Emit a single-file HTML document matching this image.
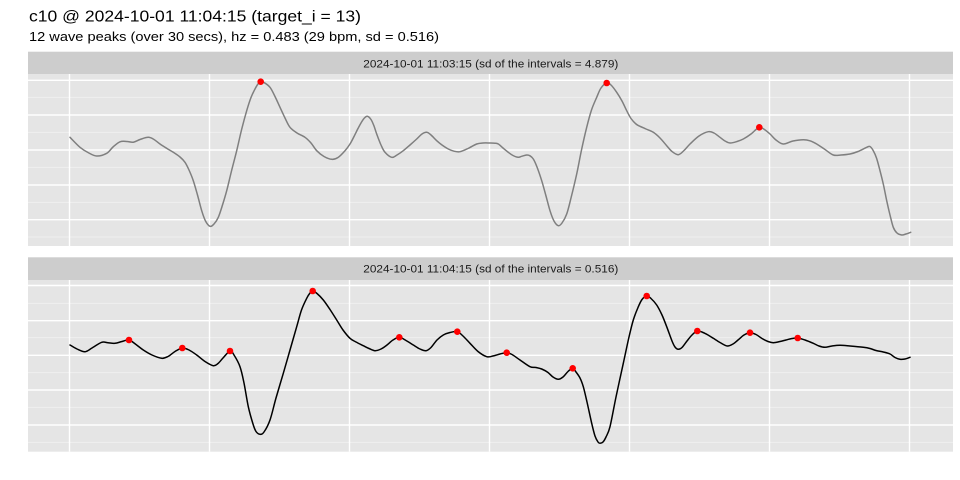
<!DOCTYPE html>
<html>
<head>
<meta charset="utf-8">
<style>
html,body{margin:0;padding:0;background:#ffffff;}
svg{display:block;}
text{font-family:"Liberation Sans",Arial,sans-serif;}
</style>
</head>
<body>
<svg id="chart" width="960" height="480" viewBox="0 0 960 480" xmlns="http://www.w3.org/2000/svg">
<rect x="0" y="0" width="960" height="480" fill="#ffffff"/>
<text x="29" y="21.5" font-size="16" fill="#000000" textLength="332" lengthAdjust="spacingAndGlyphs">c10 @ 2024-10-01 11:04:15 (target_i = 13)</text>
<text x="29" y="41" font-size="13" fill="#000000" textLength="410" lengthAdjust="spacingAndGlyphs">12 wave peaks (over 30 secs), hz = 0.483 (29 bpm, sd = 0.516)</text>

<!-- Panel 1 -->
<rect x="28" y="51.7" width="925" height="22.3" fill="#cdcdcd"/>
<text x="363.3" y="67.5" font-size="11" fill="#1a1a1a" textLength="255" lengthAdjust="spacingAndGlyphs">2024-10-01 11:03:15 (sd of the intervals = 4.879)</text>
<rect x="28" y="74" width="925" height="172" fill="#e5e5e5"/>
<g stroke="#f2f2f2" stroke-width="0.8">
<line x1="28" x2="953" y1="97.3" y2="97.3"/>
<line x1="28" x2="953" y1="132.3" y2="132.3"/>
<line x1="28" x2="953" y1="167.3" y2="167.3"/>
<line x1="28" x2="953" y1="202.3" y2="202.3"/>
<line x1="28" x2="953" y1="237" y2="237"/>
</g>
<g stroke="#ffffff" stroke-width="1.4">
<line x1="28" x2="953" y1="80.3" y2="80.3"/>
<line x1="28" x2="953" y1="115" y2="115"/>
<line x1="28" x2="953" y1="150" y2="150"/>
<line x1="28" x2="953" y1="185" y2="185"/>
<line x1="28" x2="953" y1="219.7" y2="219.7"/>
<line x1="69.5" x2="69.5" y1="74" y2="246"/>
<line x1="209.5" x2="209.5" y1="74" y2="246"/>
<line x1="349.5" x2="349.5" y1="74" y2="246"/>
<line x1="489.5" x2="489.5" y1="74" y2="246"/>
<line x1="629.5" x2="629.5" y1="74" y2="246"/>
<line x1="769.5" x2="769.5" y1="74" y2="246"/>
<line x1="909.5" x2="909.5" y1="74" y2="246"/>
</g>
<polyline class="curve" fill="none" stroke="#7f7f7f" stroke-width="1.5" stroke-linejoin="round" stroke-linecap="round" points="
70,137.3 80,147.3 88,152.5 96.7,156 106.7,153.3 113,147 120,141.8 127,141.5 133.3,142.2 140,139.5 148.3,137.3 154,139.5 160,144 167,148.5 173.3,152.3 180,157 185,162.3 189,170 193.3,180.7 197.5,195 201.7,210.7 205.5,221 210,226.3 214,224 218.3,217.3 222.5,205 226.7,190.7 231.5,171 236.7,150.7 241.5,130 246.7,110.7 251,97.5 255,89 258,84 260.7,81.7 264,82.5 270,87.3 275,96.5 280,107.3 285,118 290,127.3 297,133 305,137.3 311,143 316.7,150.7 324,156.5 331.7,159.3 338,157.5 345,150.7 350,144 354,136.5 358,128.5 361,123 364,118.5 367.3,116.3 371,119.5 374,126 376.7,134 381,145 385,152.3 391.7,157.3 397,155 403.3,150.7 410,145 416.7,139 422,134 426.7,132.3 431,135 436.7,140.7 442,145 448.3,149 454,151.2 460,151.7 468,148.5 476.7,144 483,143 490,143 495,143.2 498.3,144 503,148 508.3,152.3 513,155.5 518.3,157.3 522,156.2 526.7,155 530,155.8 533.3,159 537,167 541.7,180.7 546,196 550,210.7 554,221 558.3,225.7 562,223 566.7,214 571,198 576.7,174 581.5,150 586.7,127.3 591.5,110 596.7,97.3 601,88 606.7,83 611,85 616.7,92.3 622,101 626.7,110.7 631,118.5 636,124 640,126.3 646,129 653.3,132.3 660,138 666.7,145.7 672,151.5 678.3,154.7 684,150.5 690,144 699,136 708.3,131.7 714,133 720,137.3 725,141 730,143 737,141.5 743.3,139 751,134 756,129.5 759.3,127.3 763,128.5 770,134 776,140 783.3,144 793,141 803.3,139.7 810,140.8 816.7,144 825,149.5 833.3,155 841,155 850,154 858,151.5 866.7,147.3 870,146.5 873.3,150.7 876.5,158 880,170.7 883.5,185 886.7,200.7 890,215 893.3,227.3 897,233 901.7,235 906,234 910.7,232.3"/>
<g fill="#ff0000">
<circle cx="260.7" cy="81.7" r="3.3"/>
<circle cx="606.7" cy="83" r="3.3"/>
<circle cx="759.3" cy="127.3" r="3.3"/>
</g>

<!-- Panel 2 -->
<rect x="28" y="257.3" width="925" height="22.7" fill="#cdcdcd"/>
<text x="363.3" y="272.7" font-size="11" fill="#1a1a1a" textLength="255" lengthAdjust="spacingAndGlyphs">2024-10-01 11:04:15 (sd of the intervals = 0.516)</text>
<rect x="28" y="280" width="925" height="171.7" fill="#e5e5e5"/>
<g stroke="#f2f2f2" stroke-width="0.8">
<line x1="28" x2="953" y1="303.3" y2="303.3"/>
<line x1="28" x2="953" y1="337.7" y2="337.7"/>
<line x1="28" x2="953" y1="372.7" y2="372.7"/>
<line x1="28" x2="953" y1="407.3" y2="407.3"/>
<line x1="28" x2="953" y1="442.3" y2="442.3"/>
</g>
<g stroke="#ffffff" stroke-width="1.4">
<line x1="28" x2="953" y1="285.5" y2="285.5"/>
<line x1="28" x2="953" y1="320.7" y2="320.7"/>
<line x1="28" x2="953" y1="355.3" y2="355.3"/>
<line x1="28" x2="953" y1="390" y2="390"/>
<line x1="28" x2="953" y1="425" y2="425"/>
<line x1="69.5" x2="69.5" y1="280" y2="451.7"/>
<line x1="209.5" x2="209.5" y1="280" y2="451.7"/>
<line x1="349.5" x2="349.5" y1="280" y2="451.7"/>
<line x1="489.5" x2="489.5" y1="280" y2="451.7"/>
<line x1="629.5" x2="629.5" y1="280" y2="451.7"/>
<line x1="769.5" x2="769.5" y1="280" y2="451.7"/>
<line x1="909.5" x2="909.5" y1="280" y2="451.7"/>
</g>
<polyline class="curve" fill="none" stroke="#000000" stroke-width="1.5" stroke-linejoin="round" stroke-linecap="round" points="
70,345 77,349 85,351.7 92,348 101.7,342.3 108,342.8 115,343.3 122,341.5 129,340 136,344.5 143.3,350 152,355 161.7,358.3 168,356.5 175,351.5 182.3,348 189,350 196.7,355 205,361.5 213.3,365.7 218,363.5 223,358 230,351 234,355 240,366.7 244,383 248.3,406.7 253,424 256,431.5 260,434.3 264,432 270,420 276,398 283.3,373.3 290,350 296.7,326.7 301.5,310 306.7,298.3 310,293 312.7,291 317,293.5 323.3,300 330,309.5 336.7,320 343,330 350,338.3 356,342 363.3,345.7 369,348.5 375,350.7 381,349 387,345 393,340 399.3,337.3 406,340.5 413.3,345 420,349 426,350.7 431,347.5 437,340 443.3,335 450,332.5 457.3,331.7 463,336 470,343.3 478,351.5 486.7,356.7 493,356 500,354 506.7,352.7 512,354.5 520,360 530,366.7 536,367.5 541.7,369 548,372.5 553,377 558.3,379.3 563,377 568,371.5 572.7,368.3 576,372 580,378 583.3,386.7 587,402 591.7,423.3 595,436 598,442 600,443.3 603,442 606,437 610,426.7 616,397 623.3,363.3 629,337 633.3,320 638,307.5 642,299.5 646.7,296 651,298.5 656.7,305 662,315 666.7,326.7 672,341 675,347 678.3,349.3 682,347.5 687,341 692,335 697.3,331 703,332.5 708,335 713.3,338.3 720,342.5 727.3,346 733,344 738,340 744,335 750,332.7 756,334.5 762,338.5 768,341.5 773.3,342.7 780,341.5 786,340 792,338.5 797.7,338 805,340 813.3,343.3 819,346 825,347.3 832,346 840,345.3 850,346 863.3,347.3 870,348.5 876,350.5 883.3,352 890,354 895,357.5 900,359.3 905,359 910,357.3"/>
<g fill="#ff0000">
<circle cx="129" cy="340" r="3.3"/>
<circle cx="182.3" cy="348" r="3.3"/>
<circle cx="230" cy="351" r="3.3"/>
<circle cx="312.7" cy="291" r="3.3"/>
<circle cx="399.3" cy="337.3" r="3.3"/>
<circle cx="457.3" cy="331.7" r="3.3"/>
<circle cx="506.7" cy="352.7" r="3.3"/>
<circle cx="572.7" cy="368.3" r="3.3"/>
<circle cx="646.7" cy="296" r="3.3"/>
<circle cx="697.3" cy="331" r="3.3"/>
<circle cx="750" cy="332.7" r="3.3"/>
<circle cx="797.7" cy="338" r="3.3"/>
</g>
</svg>
<script>
(function(){
  var NS="http://www.w3.org/2000/svg";
  var lines=document.querySelectorAll("polyline.curve");
  for(var k=0;k<lines.length;k++){
    var pl=lines[k];
    var raw=pl.getAttribute("points").trim().split(/\s+/);
    var p=[];
    for(var i=0;i<raw.length;i++){var a=raw[i].split(",");p.push([parseFloat(a[0]),parseFloat(a[1])]);}
    var d="M"+p[0][0]+","+p[0][1];
    for(var i=0;i<p.length-1;i++){
      var p0=p[i>0?i-1:i],p1=p[i],p2=p[i+1],p3=p[i+2<p.length?i+2:i+1];
      var c1x=p1[0]+(p2[0]-p0[0])/6,c1y=p1[1]+(p2[1]-p0[1])/6;
      var c2x=p2[0]-(p3[0]-p1[0])/6,c2y=p2[1]-(p3[1]-p1[1])/6;
      d+=" C"+c1x.toFixed(2)+","+c1y.toFixed(2)+" "+c2x.toFixed(2)+","+c2y.toFixed(2)+" "+p2[0]+","+p2[1];
    }
    var path=document.createElementNS(NS,"path");
    path.setAttribute("d",d);
    path.setAttribute("fill","none");
    path.setAttribute("stroke",pl.getAttribute("stroke"));
    path.setAttribute("stroke-width",pl.getAttribute("stroke-width"));
    path.setAttribute("stroke-linejoin","round");
    path.setAttribute("stroke-linecap","round");
    pl.parentNode.replaceChild(path,pl);
  }
})();
</script>
</body>
</html>
